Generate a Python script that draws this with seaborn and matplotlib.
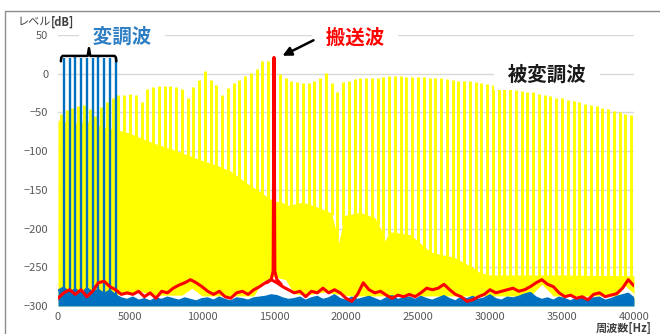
import numpy as np
import matplotlib
matplotlib.use("Agg")
import matplotlib.pyplot as plt
from matplotlib.patches import Rectangle
import seaborn as sns

# --- dados ---
# linhas do sinal modulado (bandas laterais a cada 400 Hz, começando em 200 Hz)
sideband_freq = np.arange(200, 40000, 400)
sideband_db = [
    -52, -47, -44, -42, -41, -46, -55, -43, -37, -31,
    -27, -27, -26, -28, -36, -20, -17, -16, -16, -16, -17, -20, -31, -17,
    -8, 3, -8, -15, -28, -18, -12, -8, -3,
    1, 6, 17, 16, 12,
    0, -6, -9, -11, -12, -12, -10, -5, 1, -12, -24, -11, -9, -7, -6, -5,
    -5, -5, -4, -3, -3, -3, -4, -4, -4, -4, -5, -5, -5,
    -7, -8, -9, -9, -10, -11, -12, -13, -15, -16, -18, -19, -21, -22, -23,
    -24, -26, -28, -29, -31, -32, -34, -35, -37, -39, -41, -42, -44, -46,
    -48, -50, -52, -53,
]

# contorno da área amarela sólida (entre as linhas)
trough_freq = [0, 1000, 2000, 3000, 4000, 5000, 6000, 7000, 8000, 9000, 10000,
               11000, 12000, 13000, 14000, 14600, 15000, 15400, 16000, 17000,
               18000, 19000, 19500, 19900, 21000, 22000, 22400, 22700, 23000,
               24500, 25400, 25800, 26000, 27500, 28700, 29300, 30000, 35000, 40000]
trough_db = [-60, -64, -62, -68, -72, -77, -85, -92, -98, -105, -112,
             -118, -126, -140, -152, -160, -165, -165, -170, -166,
             -172, -180, -218, -183, -179, -186, -200, -216, -204,
             -208, -223, -229, -231, -237, -249, -257, -260, -260, -261]

# fundo do amarelo (manchas brancas perto do piso)
floor_freq = [0, 5200, 5800, 6400, 8600, 9300, 10000, 13600, 14200, 15000, 15800,
              16400, 17200, 18500, 19800, 20400, 32800, 33600, 34400, 38800, 39400, 40000]
floor_db = [-285, -285, -281, -286, -286, -277, -287, -287, -268, -262, -266,
            -284, -286, -282, -286, -287, -287, -272, -287, -287, -274, -284]

# sinal modulante
mod_freq = np.arange(400, 4001, 400)
mod_db = [20, 20, 21, 20, 20, 20, 21, 20, 20, 20]

# ruído de fundo (grade de 400 Hz)
noise_freq = np.arange(0, 40001, 400)
red_noise_db = [
    -290, -283, -279, -285, -279, -288, -281, -270, -268, -275,
    -279, -285, -283, -285, -281, -288, -283, -290, -281, -283,
    -277, -273, -270, -266, -270, -275, -281, -285, -281, -288,
    -290, -283, -281, -285, -279, -275, -270, -266, -270, -275,
    -279, -283, -281, -288, -281, -283, -277, -283, -279, -283,
    -290, -294, -285, -270, -279, -283, -281, -286, -290, -286,
    -288, -285, -288, -283, -277, -279, -277, -272, -279, -285,
    -288, -294, -292, -288, -285, -279, -283, -281, -279, -277,
    -281, -279, -275, -270, -266, -272, -275, -283, -288, -286,
    -290, -288, -292, -285, -283, -288, -286, -284, -277, -266,
    -274,
]
blue_noise_db = [
    -280, -276, -283, -278, -285, -277, -282, -279, -284, -280, -286,
    -290, -292, -289, -293, -291, -294, -290, -292, -289, -291,
    -293, -290, -292, -294, -291, -290, -293, -289, -292, -294,
    -290, -291, -293, -290, -289,
    -288, -286, -287, -290, -292,
    -291, -289, -293, -290, -288, -292, -290, -286, -291, -293,
    -289, -292, -290, -288, -291, -294, -290, -287, -292, -290,
    -289, -292, -288, -291, -293, -290, -287, -291, -294, -289,
    -291, -288, -292, -290, -286, -291, -293, -289, -290, -288,
    -285, -283, -289, -292, -290, -293, -289, -291, -294, -290,
    -288, -292, -290, -289, -293, -291, -288, -286, -284, -290,
]

# portadora
carrier_freq = [14500, 14800, 14940, 15000, 15060, 15200, 15500]
carrier_db = [-270, -266, -255, 21, -255, -266, -272]

AMARELO = "#FFFF00"
AZUL = "#0070C0"
VERMELHO = "#FF0000"

sns.set_theme(style="white")
plt.rcParams["font.family"] = ["Noto Sans CJK JP", "DejaVu Sans"]

fig = plt.figure(figsize=(6.6, 3.34), dpi=100)
ax = fig.add_axes([58 / 660, 1 - 306 / 334, 576 / 660, 271 / 334])
ax.set_xlim(0, 40000)
ax.set_ylim(-300, 50)

# área amarela
ax.fill_between(trough_freq, -300, trough_db, color=AMARELO, lw=0, zorder=2)
ax.fill_between(floor_freq, -300, floor_db, color="white", lw=0, zorder=2.1)
base = np.interp(sideband_freq, trough_freq, trough_db) - 3
ax.vlines(sideband_freq, base, sideband_db, color=AMARELO, lw=2.1, zorder=2.2)

# sinal modulante
ax.vlines(mod_freq, -292, mod_db, color=AZUL, lw=1.7, zorder=2.3)
ax.fill_between(noise_freq, -300, blue_noise_db, color=AZUL, lw=0, zorder=2.4)
sns.lineplot(x=noise_freq, y=blue_noise_db, color=AZUL, lw=1.4, ax=ax, zorder=2.4)

# ruído e portadora
sns.lineplot(x=noise_freq, y=red_noise_db, color=VERMELHO, lw=2.2, ax=ax, zorder=2.5)
sns.lineplot(x=carrier_freq, y=carrier_db, color=VERMELHO, lw=2.2, ax=ax, zorder=2.6)

# eixos
ax.set_yticks(range(-300, 51, 50))
ax.set_xticks(range(0, 40001, 5000))
ax.yaxis.grid(True, color="#D9D9D9", lw=1)
ax.xaxis.grid(False)
ax.set_axisbelow(True)
for s in ax.spines.values():
    s.set_visible(False)
ax.tick_params(axis="y", length=0, labelsize=8, labelcolor="#595959", pad=7)
ax.tick_params(axis="x", length=0, labelsize=8, labelcolor="#595959", pad=4)
ax.set_xlabel("")
ax.set_ylabel("")

# chave sobre o sinal modulante
chave_x = [200, 230, 320, 2060, 2150, 2240, 3930, 4020, 4050]
chave_y = [16, 21, 23, 23, 33, 23, 23, 21, 16]
ax.plot(chave_x, chave_y, color="black", lw=1.8, zorder=6, clip_on=False)

# textos
caixa = dict(boxstyle="square,pad=0.25", facecolor="white", edgecolor="none")
ax.text(122 / 660, 1 - 37 / 334, "  変調波  ", transform=fig.transFigure, ha="center",
        va="center", fontsize=14, fontweight="bold", color="#2E7EC4", bbox=caixa, zorder=5)
ax.text(355 / 660, 1 - 38 / 334, "  搬送波  ", transform=fig.transFigure, ha="center",
        va="center", fontsize=14, fontweight="bold", color=VERMELHO, bbox=caixa, zorder=5)
ax.text(547 / 660, 1 - 75 / 334, "  被変調波  ", transform=fig.transFigure, ha="center",
        va="center", fontsize=14, fontweight="bold", color="#1A1A1A", bbox=caixa, zorder=5)
ax.annotate("", xy=(280 / 660, 1 - 57 / 334), xytext=(316 / 660, 1 - 39 / 334),
            xycoords="figure fraction", textcoords="figure fraction",
            arrowprops=dict(arrowstyle="-|>", color="black", lw=1.8, mutation_scale=13),
            zorder=6)

fig.text(18 / 660, 1 - 22 / 334, "レベル", fontsize=8, color="#404040", va="center")
fig.text(51 / 660, 1 - 22 / 334, "[dB]", fontsize=8, fontweight="bold", color="#404040",
         va="center")
fig.text(652 / 660, 1 - 328 / 334, "周波数[Hz]", fontsize=8, fontweight="bold",
         color="#404040", va="center", ha="right")

# moldura externa
fig.patches.append(Rectangle((5 / 660, -0.05), 1.1, 1 - 11 / 334 + 0.05,
                             transform=fig.transFigure, fill=False,
                             edgecolor="#8C8C8C", lw=1))

fig.savefig("out.png", dpi=100)
